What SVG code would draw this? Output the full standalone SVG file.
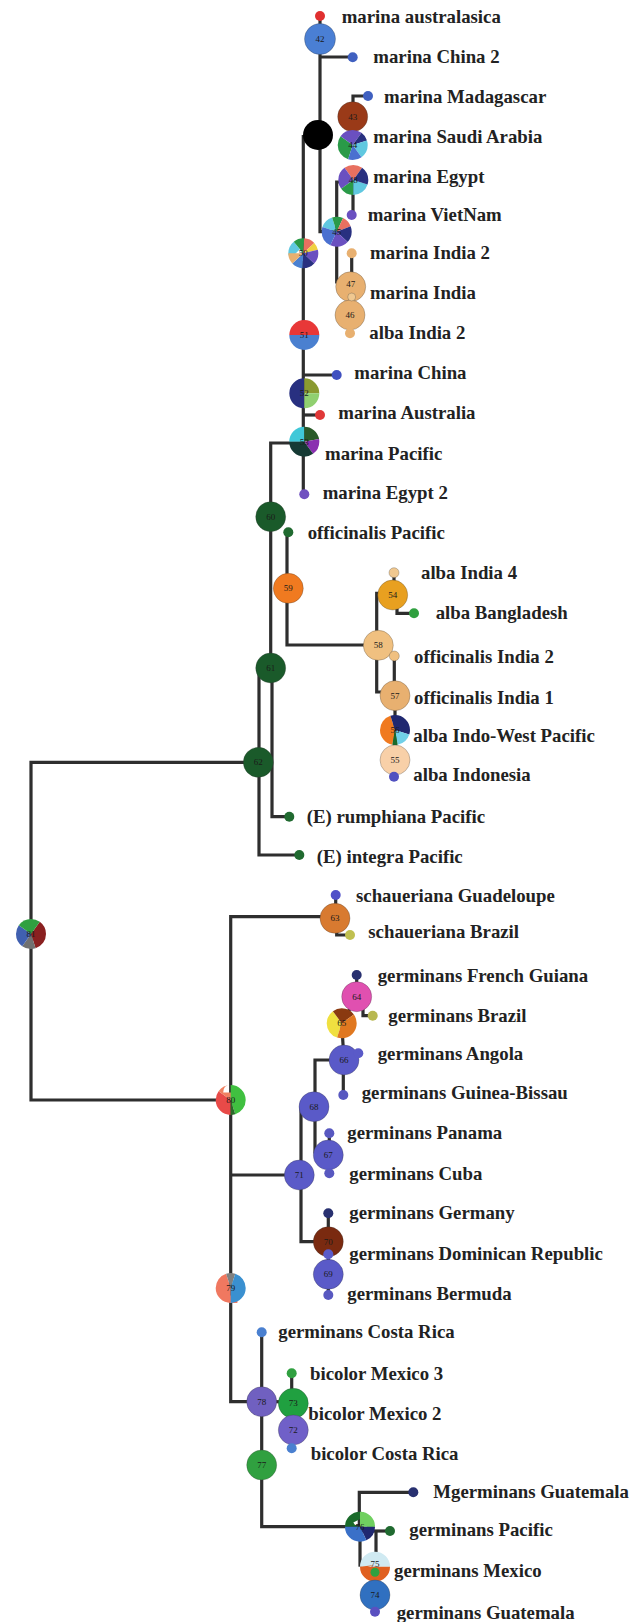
<svg xmlns="http://www.w3.org/2000/svg" width="642" height="1622" viewBox="0 0 642 1622">
<style>
.bg{fill:#ffffff}
.c{fill:none;stroke:#2e2e2e;stroke-width:3.2;stroke-linejoin:miter;stroke-linecap:butt}
.t{font-family:"Liberation Serif","Times New Roman",serif;font-weight:bold;font-size:18.8px;fill:#222222}
.k{font-family:"Liberation Serif","Times New Roman",serif;font-size:9px;fill:#1a1a1a;text-anchor:middle;dominant-baseline:central}
.w{fill:none;stroke-width:15}
.o{stroke:#333;stroke-opacity:0.35;stroke-width:0.8}
</style>
<rect class="bg" x="0" y="0" width="642" height="1622"/>
<g id="connectors">
<path class="c" d="M320,16 V135"/>
<path class="c" d="M320,57 H352.7"/>
<path class="c" d="M353,117 V96 H368"/>
<path class="c" d="M320,135 V231.7 H336.7"/>
<path class="c" d="M353,180 V215"/>
<path class="c" d="M340,182 H336.7 V282 H350"/>
<path class="c" d="M351.7,253.3 V286.7"/>
<path class="c" d="M350.7,286.7 V333.3"/>
<path class="c" d="M303.3,135 V494.3"/>
<path class="c" d="M304,375 H336.7"/>
<path class="c" d="M304,415 H320"/>
<path class="c" d="M304,443 H270.7 V668"/>
<path class="c" d="M272,668 V816.7 H289.3"/>
<path class="c" d="M259,668 V855 H299.3"/>
<path class="c" d="M258.3,762.3 H31 V1100 H230.7"/>
<path class="c" d="M287,532 V645 H378"/>
<path class="c" d="M376.7,645 V593.3 H392.7"/>
<path class="c" d="M394,572.7 V595"/>
<path class="c" d="M397,595 V613.3 H414"/>
<path class="c" d="M394.3,656 V695.7"/>
<path class="c" d="M376.7,645 V692 H395"/>
<path class="c" d="M395,695.7 V776.7"/>
<path class="c" d="M230.7,1100 V916.7 H335"/>
<path class="c" d="M335.7,895 V918"/>
<path class="c" d="M336.7,918 V935 H350"/>
<path class="c" d="M356.7,975 V996.7"/>
<path class="c" d="M363,996.7 V1015.7 H372.7"/>
<path class="c" d="M356.7,996.7 L341.7,1023.3 L344,1060"/>
<path class="c" d="M343.3,1060 V1095"/>
<path class="c" d="M344,1060 H315 V1152 H328.3"/>
<path class="c" d="M329.3,1133.3 V1173.3"/>
<path class="c" d="M301,1106.7 V1241.7 H328.3"/>
<path class="c" d="M230.7,1175 H299.3"/>
<path class="c" d="M328.3,1213.3 V1295"/>
<path class="c" d="M230.7,1100 V1401.7 H261.7"/>
<path class="c" d="M261.7,1332.3 V1526.7 H360"/>
<path class="c" d="M291.7,1373.3 V1448.3"/>
<path class="c" d="M261.7,1401.7 H293"/>
<path class="c" d="M359.3,1526.7 V1492.3 H413.3"/>
<path class="c" d="M360,1531 H390"/>
<path class="c" d="M376,1531 V1566.7"/>
<path class="c" d="M360,1526.7 V1566.7"/>
<path class="c" d="M375,1566.7 V1611.7"/>
</g>
<g id="n42"><circle cx="320" cy="39" r="15.5" fill="#4a7fd4" class="o"/><text class="k" x="320" y="39">42</text></g>
<g id="n49"><circle cx="318" cy="135" r="15" fill="#000"/></g>
<g id="n43"><circle cx="352.7" cy="116.7" r="15" fill="#9a3a18" class="o"/><text class="k" x="352.7" y="116.7">43</text></g>
<g id="n44">
<circle cx="352.7" cy="145" r="7.5" class="w" pathLength="100" stroke="#2a9a48" stroke-dasharray="30 70" stroke-dashoffset="-30"/>
<circle cx="352.7" cy="145" r="7.5" class="w" pathLength="100" stroke="#6a50c0" stroke-dasharray="25 75" stroke-dashoffset="-60"/>
<circle cx="352.7" cy="145" r="7.5" class="w" pathLength="100" stroke="#283080" stroke-dasharray="10 90" stroke-dashoffset="-85"/>
<circle cx="352.7" cy="145" r="7.5" class="w" pathLength="100" stroke="#60c8e0" stroke-dasharray="20 80" stroke-dashoffset="-95"/>
<circle cx="352.7" cy="145" r="7.5" class="w" pathLength="100" stroke="#4a70d0" stroke-dasharray="15 85" stroke-dashoffset="-15"/>
<text class="k" x="352.7" y="145">44</text></g>
<g id="n48">
<circle cx="353.3" cy="180" r="7.5" class="w" pathLength="100" stroke="#e87060" stroke-dasharray="20 80" stroke-dashoffset="-65"/>
<circle cx="353.3" cy="180" r="7.5" class="w" pathLength="100" stroke="#6a50c0" stroke-dasharray="25 75" stroke-dashoffset="-40"/>
<circle cx="353.3" cy="180" r="7.5" class="w" pathLength="100" stroke="#2a9a48" stroke-dasharray="15 85" stroke-dashoffset="-25"/>
<circle cx="353.3" cy="180" r="7.5" class="w" pathLength="100" stroke="#60c8e0" stroke-dasharray="20 80" stroke-dashoffset="-5"/>
<circle cx="353.3" cy="180" r="7.5" class="w" pathLength="100" stroke="#283080" stroke-dasharray="20 80" stroke-dashoffset="-85"/>
<text class="k" x="353.3" y="180">48</text></g>
<g id="n45">
<circle cx="336.7" cy="231.7" r="7.5" class="w" pathLength="100" stroke="#60c8e0" stroke-dasharray="15 85" stroke-dashoffset="-55"/>
<circle cx="336.7" cy="231.7" r="7.5" class="w" pathLength="100" stroke="#2a9a48" stroke-dasharray="12 88" stroke-dashoffset="-70"/>
<circle cx="336.7" cy="231.7" r="7.5" class="w" pathLength="100" stroke="#e87060" stroke-dasharray="12 88" stroke-dashoffset="-82"/>
<circle cx="336.7" cy="231.7" r="7.5" class="w" pathLength="100" stroke="#283080" stroke-dasharray="18 82" stroke-dashoffset="-94"/>
<circle cx="336.7" cy="231.7" r="7.5" class="w" pathLength="100" stroke="#6a50c0" stroke-dasharray="20 80" stroke-dashoffset="-12"/>
<circle cx="336.7" cy="231.7" r="7.5" class="w" pathLength="100" stroke="#4a70d0" stroke-dasharray="23 77" stroke-dashoffset="-32"/>
<text class="k" x="336.7" y="231.7">45</text></g>
<g id="n50">
<circle cx="303.3" cy="253.3" r="7.5" class="w" pathLength="100" stroke="#60c8e0" stroke-dasharray="14 86" stroke-dashoffset="-50"/>
<circle cx="303.3" cy="253.3" r="7.5" class="w" pathLength="100" stroke="#2a9a48" stroke-dasharray="12 88" stroke-dashoffset="-64"/>
<circle cx="303.3" cy="253.3" r="7.5" class="w" pathLength="100" stroke="#e87060" stroke-dasharray="12 88" stroke-dashoffset="-76"/>
<circle cx="303.3" cy="253.3" r="7.5" class="w" pathLength="100" stroke="#f0d040" stroke-dasharray="8 92" stroke-dashoffset="-88"/>
<circle cx="303.3" cy="253.3" r="7.5" class="w" pathLength="100" stroke="#6a50c0" stroke-dasharray="16 84" stroke-dashoffset="-96"/>
<circle cx="303.3" cy="253.3" r="7.5" class="w" pathLength="100" stroke="#283080" stroke-dasharray="14 86" stroke-dashoffset="-12"/>
<circle cx="303.3" cy="253.3" r="7.5" class="w" pathLength="100" stroke="#4a80d0" stroke-dasharray="12 88" stroke-dashoffset="-26"/>
<circle cx="303.3" cy="253.3" r="7.5" class="w" pathLength="100" stroke="#e8b070" stroke-dasharray="12 88" stroke-dashoffset="-38"/>
<text class="k" x="303.3" y="253.3">50</text></g>
<g id="n47"><circle cx="350.7" cy="286.7" r="15" fill="#e8b070" class="o"/><text class="k" x="350.7" y="284">47</text></g>
<g id="n46"><circle cx="350" cy="315" r="15" fill="#e8b070" class="o"/><text class="k" x="350" y="315">46</text></g>
<g id="n51">
<circle cx="304.3" cy="335" r="7.5" class="w" pathLength="100" stroke="#e83838" stroke-dasharray="50 50" stroke-dashoffset="-50"/>
<circle cx="304.3" cy="335" r="7.5" class="w" pathLength="100" stroke="#4a80d0" stroke-dasharray="50 50" stroke-dashoffset="0"/>
<text class="k" x="304.3" y="335">51</text></g>
<g id="n52">
<circle cx="304.3" cy="393.3" r="7.5" class="w" pathLength="100" stroke="#283080" stroke-dasharray="50 50" stroke-dashoffset="-25"/>
<circle cx="304.3" cy="393.3" r="7.5" class="w" pathLength="100" stroke="#8a9a30" stroke-dasharray="25 75" stroke-dashoffset="-75"/>
<circle cx="304.3" cy="393.3" r="7.5" class="w" pathLength="100" stroke="#90d070" stroke-dasharray="25 75" stroke-dashoffset="0"/>
<text class="k" x="304.3" y="393.3">52</text></g>
<g id="n53">
<circle cx="304.3" cy="441.7" r="7.5" class="w" pathLength="100" stroke="#40c8d8" stroke-dasharray="25 75" stroke-dashoffset="-50"/>
<circle cx="304.3" cy="441.7" r="7.5" class="w" pathLength="100" stroke="#2a5a2a" stroke-dasharray="22 78" stroke-dashoffset="-75"/>
<circle cx="304.3" cy="441.7" r="7.5" class="w" pathLength="100" stroke="#8a30b0" stroke-dasharray="18 82" stroke-dashoffset="-97"/>
<circle cx="304.3" cy="441.7" r="7.5" class="w" pathLength="100" stroke="#163a34" stroke-dasharray="35 65" stroke-dashoffset="-15"/>
<text class="k" x="304.3" y="441.7">53</text></g>
<g id="n60"><circle cx="270.7" cy="516.7" r="15" fill="#1a5a2a" class="o"/><text class="k" x="270.7" y="516.7">60</text></g>
<g id="n59"><circle cx="288.3" cy="588.3" r="15" fill="#f07a20" class="o"/><text class="k" x="288.3" y="588.3">59</text></g>
<g id="n54"><circle cx="392.7" cy="595" r="15" fill="#e8a020" class="o"/><text class="k" x="392.7" y="595">54</text></g>
<g id="n58"><circle cx="378.3" cy="645.3" r="15" fill="#f0c080" class="o"/><text class="k" x="378.3" y="645.3">58</text></g>
<g id="n61"><circle cx="270.7" cy="668" r="15" fill="#1a5a2a" class="o"/><text class="k" x="270.7" y="668">61</text></g>
<g id="n57"><circle cx="395" cy="695.7" r="15" fill="#e8b070" class="o"/><text class="k" x="395" y="695.7">57</text></g>
<g id="n56">
<circle cx="395" cy="730" r="7.5" class="w" pathLength="100" stroke="#f07a20" stroke-dasharray="42 58" stroke-dashoffset="-28"/>
<circle cx="395" cy="730" r="7.5" class="w" pathLength="100" stroke="#202870" stroke-dasharray="35 65" stroke-dashoffset="-70"/>
<circle cx="395" cy="730" r="7.5" class="w" pathLength="100" stroke="#70d0e8" stroke-dasharray="17 83" stroke-dashoffset="-5"/>
<circle cx="395" cy="730" r="7.5" class="w" pathLength="100" stroke="#1a6a2a" stroke-dasharray="6 94" stroke-dashoffset="-22"/>
<text class="k" x="395" y="730">56</text></g>
<g id="n55"><circle cx="395" cy="760" r="15" fill="#f8d0a8" class="o"/><text class="k" x="395" y="760">55</text></g>
<g id="n62"><circle cx="258.3" cy="762.3" r="15" fill="#1a5a2a" class="o"/><text class="k" x="258.3" y="762.3">62</text></g>
<g id="n81">
<circle cx="31" cy="934" r="7.5" class="w" pathLength="100" stroke="#8a2020" stroke-dasharray="35 65" stroke-dashoffset="-85"/>
<circle cx="31" cy="934" r="7.5" class="w" pathLength="100" stroke="#707070" stroke-dasharray="15 85" stroke-dashoffset="-20"/>
<circle cx="31" cy="934" r="7.5" class="w" pathLength="100" stroke="#4060b0" stroke-dasharray="25 75" stroke-dashoffset="-35"/>
<circle cx="31" cy="934" r="7.5" class="w" pathLength="100" stroke="#30a040" stroke-dasharray="25 75" stroke-dashoffset="-60"/>
<text class="k" x="31" y="934">81</text></g>
<g id="n63"><circle cx="335" cy="918.3" r="15" fill="#d87a30" class="o"/><text class="k" x="335" y="918.3">63</text></g>
<g id="n64"><circle cx="356.7" cy="996.7" r="15" fill="#e050b0" class="o"/><text class="k" x="356.7" y="996.7">64</text></g>
<g id="n65">
<circle cx="341.7" cy="1023.3" r="7.5" class="w" pathLength="100" stroke="#f0e040" stroke-dasharray="35 65" stroke-dashoffset="-30"/>
<circle cx="341.7" cy="1023.3" r="7.5" class="w" pathLength="100" stroke="#8a3a10" stroke-dasharray="25 75" stroke-dashoffset="-65"/>
<circle cx="341.7" cy="1023.3" r="7.5" class="w" pathLength="100" stroke="#e07820" stroke-dasharray="40 60" stroke-dashoffset="-90"/>
<text class="k" x="341.7" y="1023.3">65</text></g>
<g id="n66"><circle cx="344" cy="1060" r="15" fill="#5a5ac8" class="o"/><text class="k" x="344" y="1060">66</text></g>
<g id="n80">
<circle cx="230.7" cy="1100" r="7.5" class="w" pathLength="100" stroke="#e84a48" stroke-dasharray="35 65" stroke-dashoffset="-25"/>
<circle cx="230.7" cy="1100" r="7.5" class="w" pathLength="100" stroke="#f08060" stroke-dasharray="15 85" stroke-dashoffset="-60"/>
<circle cx="230.7" cy="1100" r="7.5" class="w" pathLength="100" stroke="#40c040" stroke-dasharray="45 55" stroke-dashoffset="-75"/>
<circle cx="230.7" cy="1100" r="7.5" class="w" pathLength="100" stroke="#2a6a2a" stroke-dasharray="5 95" stroke-dashoffset="-20"/>
<text class="k" x="230.7" y="1100">80</text></g>
<g id="n68"><circle cx="314" cy="1106.7" r="15" fill="#5a5ac8" class="o"/><text class="k" x="314" y="1106.7">68</text></g>
<g id="n67"><circle cx="328.3" cy="1155" r="15" fill="#5a5ac8" class="o"/><text class="k" x="328.3" y="1155">67</text></g>
<g id="n71"><circle cx="299.3" cy="1175" r="15" fill="#5a5ac8" class="o"/><text class="k" x="299.3" y="1175">71</text></g>
<g id="n70"><circle cx="328.3" cy="1241.7" r="15" fill="#7a2a10" class="o"/><text class="k" x="328.3" y="1241.7">70</text></g>
<g id="n69"><circle cx="328.3" cy="1274.3" r="15" fill="#5a5ac8" class="o"/><text class="k" x="328.3" y="1274.3">69</text></g>
<g id="n79">
<circle cx="230.7" cy="1288" r="7.5" class="w" pathLength="100" stroke="#f07860" stroke-dasharray="45 55" stroke-dashoffset="-25"/>
<circle cx="230.7" cy="1288" r="7.5" class="w" pathLength="100" stroke="#808080" stroke-dasharray="10 90" stroke-dashoffset="-70"/>
<circle cx="230.7" cy="1288" r="7.5" class="w" pathLength="100" stroke="#3a90d0" stroke-dasharray="45 55" stroke-dashoffset="-80"/>
<text class="k" x="230.7" y="1288">79</text></g>
<g id="n78"><circle cx="261.7" cy="1401.7" r="15" fill="#7060c0" class="o"/><text class="k" x="261.7" y="1401.7">78</text></g>
<g id="n73"><circle cx="293.3" cy="1403.3" r="15" fill="#20a040" class="o"/><text class="k" x="293.3" y="1403.3">73</text></g>
<g id="n72"><circle cx="293.3" cy="1430" r="15" fill="#7060c8" class="o"/><text class="k" x="293.3" y="1430">72</text></g>
<g id="n77"><circle cx="261.7" cy="1465" r="15" fill="#30a040" class="o"/><text class="k" x="261.7" y="1465">77</text></g>
<g id="n76">
<circle cx="360" cy="1526.7" r="7.5" class="w" pathLength="100" stroke="#1a6a2a" stroke-dasharray="25 75" stroke-dashoffset="-50"/>
<circle cx="360" cy="1526.7" r="7.5" class="w" pathLength="100" stroke="#70d060" stroke-dasharray="25 75" stroke-dashoffset="-75"/>
<circle cx="360" cy="1526.7" r="7.5" class="w" pathLength="100" stroke="#202870" stroke-dasharray="18 82" stroke-dashoffset="0"/>
<circle cx="360" cy="1526.7" r="7.5" class="w" pathLength="100" stroke="#3a70c8" stroke-dasharray="32 68" stroke-dashoffset="-18"/>
<text class="k" x="360" y="1526.7">76</text></g>
<g id="n75">
<circle cx="375" cy="1566.7" r="7.5" class="w" pathLength="100" stroke="#d0eaf2" stroke-dasharray="50 50" stroke-dashoffset="-50"/>
<circle cx="375" cy="1566.7" r="7.5" class="w" pathLength="100" stroke="#e06020" stroke-dasharray="50 50" stroke-dashoffset="0"/>
<text class="k" x="375" y="1564">75</text></g>
<g id="n74"><circle cx="375" cy="1595" r="15" fill="#3070c0" class="o"/><text class="k" x="375" y="1595">74</text></g>
<g id="leaf0"><circle cx="320" cy="16" r="5" fill="#e03030"/><text class="t" x="341.7" y="22.7">marina australasica</text></g>
<g id="leaf1"><circle cx="352.7" cy="57.3" r="5" fill="#4060c0"/><text class="t" x="373.3" y="62.7">marina China 2</text></g>
<g id="leaf2"><circle cx="368" cy="96" r="5" fill="#4060c0"/><text class="t" x="384" y="102.7">marina Madagascar</text></g>
<g id="leaf3"><text class="t" x="373.3" y="142.7">marina Saudi Arabia</text></g>
<g id="leaf4"><text class="t" x="373.3" y="182.7">marina Egypt</text></g>
<g id="leaf5"><circle cx="351.7" cy="215" r="5" fill="#6a50c0"/><text class="t" x="367.7" y="221">marina VietNam</text></g>
<g id="leaf6"><circle cx="351.7" cy="253.3" r="5" fill="#e8b070"/><text class="t" x="370" y="259.3">marina India 2</text></g>
<g id="leaf7"><circle cx="351.7" cy="297" r="4" fill="#f0c890" class="o"/><text class="t" x="370" y="299.3">marina India</text></g>
<g id="leaf8"><circle cx="350" cy="333.3" r="5" fill="#e8b070"/><text class="t" x="369.3" y="339.3">alba India 2</text></g>
<g id="leaf9"><circle cx="336.7" cy="375" r="5" fill="#4050c0"/><text class="t" x="354.3" y="378.7">marina China</text></g>
<g id="leaf10"><circle cx="320" cy="415" r="5" fill="#e03838"/><text class="t" x="338.3" y="419.3">marina Australia</text></g>
<g id="leaf11"><text class="t" x="325" y="460.3">marina Pacific</text></g>
<g id="leaf12"><circle cx="304.3" cy="494.3" r="5" fill="#7050c0"/><text class="t" x="322.7" y="499.3">marina Egypt 2</text></g>
<g id="leaf13"><circle cx="288.3" cy="532.3" r="5" fill="#206a30"/><text class="t" x="307.7" y="538.7">officinalis Pacific</text></g>
<g id="leaf14"><circle cx="394" cy="572.7" r="5" fill="#f0c890" class="o"/><text class="t" x="421" y="579.3">alba India 4</text></g>
<g id="leaf15"><circle cx="414" cy="613.3" r="5" fill="#30a040"/><text class="t" x="435.7" y="618.7">alba Bangladesh</text></g>
<g id="leaf16"><circle cx="394.3" cy="656" r="5" fill="#f0c080" class="o"/><text class="t" x="414" y="663.3">officinalis India 2</text></g>
<g id="leaf17"><text class="t" x="414" y="703.7">officinalis India 1</text></g>
<g id="leaf18"><text class="t" x="413.3" y="742">alba Indo-West Pacific</text></g>
<g id="leaf19"><circle cx="394" cy="776.7" r="5" fill="#5050c0"/><text class="t" x="413.3" y="781">alba Indonesia</text></g>
<g id="leaf20"><circle cx="289.3" cy="816.7" r="5" fill="#206a30"/><text class="t" x="306.7" y="822.7">(E) rumphiana Pacific</text></g>
<g id="leaf21"><circle cx="299.3" cy="855" r="5" fill="#206a30"/><text class="t" x="316.7" y="862.7">(E) integra Pacific</text></g>
<g id="leaf22"><circle cx="335.7" cy="895" r="5" fill="#5050c8"/><text class="t" x="356" y="902">schaueriana Guadeloupe</text></g>
<g id="leaf23"><circle cx="350" cy="935" r="5" fill="#c0c050"/><text class="t" x="368.3" y="937.7">schaueriana Brazil</text></g>
<g id="leaf24"><circle cx="356.7" cy="975" r="5" fill="#283070"/><text class="t" x="377.7" y="981.7">germinans French Guiana</text></g>
<g id="leaf25"><circle cx="372.7" cy="1015.7" r="5" fill="#b8b850"/><text class="t" x="388.3" y="1021.7">germinans Brazil</text></g>
<g id="leaf26"><circle cx="358.3" cy="1053.3" r="5" fill="#5a5ac8"/><text class="t" x="377.7" y="1060.3">germinans Angola</text></g>
<g id="leaf27"><circle cx="343.3" cy="1095" r="5" fill="#5858c0"/><text class="t" x="361.7" y="1099.3">germinans Guinea-Bissau</text></g>
<g id="leaf28"><circle cx="329.3" cy="1133.3" r="5" fill="#5858c0"/><text class="t" x="347.3" y="1139.3">germinans Panama</text></g>
<g id="leaf29"><circle cx="329.3" cy="1173.3" r="5" fill="#5858c0"/><text class="t" x="349.3" y="1180.3">germinans Cuba</text></g>
<g id="leaf30"><circle cx="328.3" cy="1213.3" r="5" fill="#283070"/><text class="t" x="349.3" y="1219.3">germinans Germany</text></g>
<g id="leaf31"><circle cx="328.3" cy="1254.3" r="5" fill="#5a5ac8"/><text class="t" x="349.3" y="1260.3">germinans Dominican Republic</text></g>
<g id="leaf32"><circle cx="328.3" cy="1295" r="5" fill="#5858c0"/><text class="t" x="347.3" y="1300.3">germinans Bermuda</text></g>
<g id="leaf33"><circle cx="261.7" cy="1332.3" r="5" fill="#4a80d0"/><text class="t" x="278.3" y="1338.3">germinans Costa Rica</text></g>
<g id="leaf34"><circle cx="291.7" cy="1373.3" r="5" fill="#30a040"/><text class="t" x="310" y="1380">bicolor Mexico 3</text></g>
<g id="leaf35"><text class="t" x="308.3" y="1420">bicolor Mexico 2</text></g>
<g id="leaf36"><circle cx="291.7" cy="1448.3" r="5" fill="#4a80d0"/><text class="t" x="310.7" y="1460">bicolor Costa Rica</text></g>
<g id="leaf37"><circle cx="413.3" cy="1492.3" r="5" fill="#283070"/><text class="t" x="433.3" y="1498.3">Mgerminans Guatemala</text></g>
<g id="leaf38"><circle cx="390" cy="1531" r="5" fill="#206a30"/><text class="t" x="409.3" y="1536">germinans Pacific</text></g>
<g id="leaf39"><circle cx="375" cy="1572.3" r="4.5" fill="#30a040"/><text class="t" x="394" y="1577">germinans Mexico</text></g>
<g id="leaf40"><circle cx="375" cy="1611.7" r="5" fill="#5a50c0"/><text class="t" x="396.7" y="1619">germinans Guatemala</text></g>
</svg>
